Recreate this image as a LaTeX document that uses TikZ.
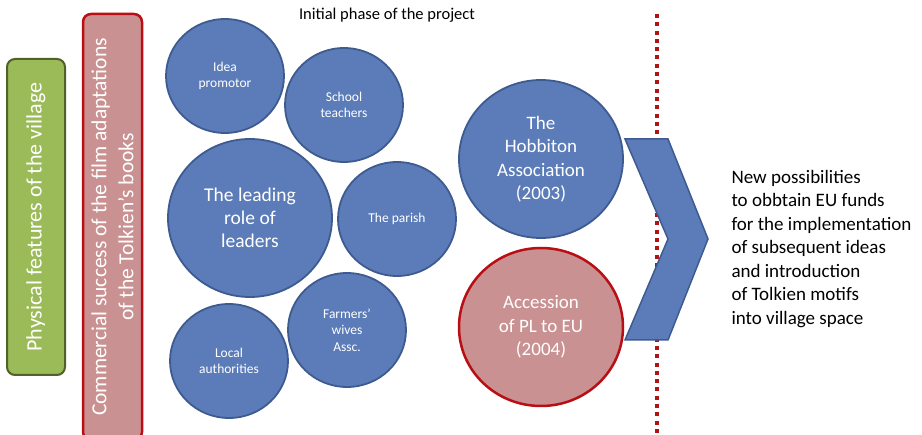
\documentclass[tikz,border=0pt]{standalone}
\usepackage{fontspec}
\setmainfont{Carlito}
\usepackage{xcolor}
\usepackage{tikz}
\usetikzlibrary{shapes.geometric}
\usetikzlibrary{positioning}
\definecolor{actorblue}{RGB}{91,124,184}
\definecolor{actorline}{RGB}{62,91,145}
\definecolor{eventpink}{RGB}{201,145,145}
\definecolor{eventline}{RGB}{185,15,20}
\definecolor{villagegreen}{RGB}{155,187,89}
\definecolor{villageline}{RGB}{80,98,40}
\definecolor{phasered}{RGB}{175,20,20}
\tikzstyle{actor} = [ellipse, 
minimum width=118pt, 
minimum height=114pt, 
inner sep=0pt,
text centered, 
align=center,
text=white,
font=\fontsize{13.5}{16.5}\selectfont,
draw=actorline, 
line width=1.8pt,
fill=actorblue]
\tikzstyle{bigactor} = [actor, 
minimum width=164pt, 
minimum height=158pt, 
font=\fontsize{19}{23.5}\selectfont]
\tikzstyle{event} = [bigactor, 
draw=eventline, 
line width=2.5pt, 
fill=eventpink]
\tikzstyle{factor} = [rectangle, rounded corners=8pt, 
rotate=90, 
text centered, 
align=center,
text=white,
font=\fontsize{22}{27}\selectfont]
\tikzstyle{boundary} = [phasered, line width=4pt, dash pattern=on 4pt off 4.3pt]

\begin{document}
\begin{tikzpicture}[x=1pt, y=-1pt]
        \useasboundingbox (0,0) rectangle (922,435);

        % background factors
        \node (village) [factor, minimum width=316pt, minimum height=58pt, 
        draw=villageline, line width=2pt, fill=villagegreen] at (36,217)
        {Physical features of the village};
        \node (films) [factor, minimum width=426pt, minimum height=59pt, 
        draw=eventline, line width=2.5pt, fill=eventpink, 
        font=\fontsize{21.5}{27}\selectfont] at (112.5,227)
        {Commercial success of the film adaptations\\of the Tolkien's books};

        % initial phase
        \node (title) at (387,15) [font=\fontsize{16.5}{19}\selectfont] 
        {Initial phase of the project};
        \node (idea) [actor] at (225,76) 
        {Idea\\promotor};
        \node (teachers) [actor] at (344,105) 
        {School\\teachers};
        \node (leaders) [bigactor, font=\fontsize{19.5}{23}\selectfont] at (250,218) 
        {The leading\\role of\\leaders};
        \node (parish) [actor] at (397,219) 
        {The parish};
        \node (wives) [actor] at (347,330) 
        {Farmers'\\wives\\Assc.};
        \node (local) [actor] at (229,361) 
        {Local\\authorities};

        \node (hobbiton) [bigactor] at (541,159) 
        {The\\Hobbiton\\Association\\(2003)};
        \node (accession) [event] at (541,327) 
        {Accession\\of PL to EU\\(2004)};

        % end of the initial phase
        \coordinate (phasetop) at (657,14);
        \coordinate (phaseend) at (657,440);
        \draw [boundary] (phasetop) -- (phaseend);

        \draw [draw=actorline, line width=1.5pt, fill=actorblue, line join=miter] 
        (625,139) -- (668,139) -- (708,239) -- (668,340) -- (625,340) -- (668,239) -- cycle;

        \node (outcome) [anchor=west, align=left, font=\fontsize{19}{23.5}\selectfont] at (728,249) 
        {New possibilities\\to obbtain EU funds\\for the implementation\\of subsequent ideas\\and introduction\\of Tolkien motifs\\into village space};
        
\end{tikzpicture}
\end{document}
